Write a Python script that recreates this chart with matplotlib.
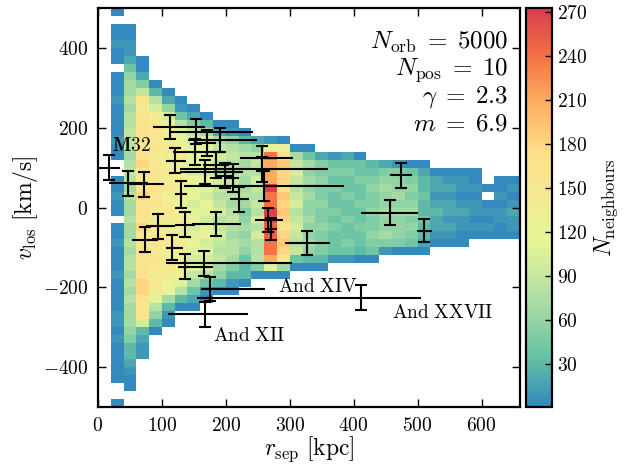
import numpy as np
import matplotlib
matplotlib.use('Agg')
import matplotlib.pyplot as plt
from matplotlib.colors import LinearSegmentedColormap
from matplotlib.ticker import FuncFormatter

plt.rcParams['mathtext.fontset'] = 'cm'
plt.rcParams['font.family'] = 'serif'

# histogram bins: 20 kpc x 20 km/s
x_edges = np.arange(0, 661, 20)
v_edges = np.arange(-500, 501, 20)

# one string per r_sep column, top row (v = 480..500) first
# '.' = empty, otherwise count = int(ch, 36) * 10
cols = [
    '.' * 50,
    '0' + '.' + '00100' + '.' + '00010000100' + '..' + '00100' + '.' + '00100010000110100000' + '..' + '0',
    '..' + '0011246' + '7787889887' + '898787' + '78778788787877' + '7653321' + '00' + '..',
    '.' * 6 + '00259' + 'gfgghgfhigghig' + 'hgigghgghiihgg' + 'a3211' + '.' * 6,
    '.' * 9 + '038a' + 'efgfgefgfhfgfegfgfgfefe' + 'b8630' + '.' * 9,
    '.' * 10 + '026ac' + 'defedfefdefedefedfed' + 'c7310' + '.' * 10,
    '.' * 11 + '0148b' + 'cdedcedecdecdedced' + 'b830' + '.' * 12,
    '.' * 12 + '0259' + 'abcbacbcabcabcbab' + '97420' + '.' * 12,
    '.' * 13 + '037' + 'abcbacbacbabcabaa' + '8410' + '.' * 13,
    '.' * 14 + '027' + '9a98a989a89a9897' + '630' + '.' * 14,
    '.' * 14 + '016' + '8988988789878875' + '310' + '.' * 14,
    '.' * 15 + '03' + '78787787' + '56767643' + '30' + '.' * 15,
    '.' * 16 + '26' + '898a989' + '8a8a8885' + '0' + '.' * 16,
    '.' * 16 + '1do' + 'lll' + 'roo' + 'rqppoo' + 'lb0' + '.' * 16,
    '.' * 16 + '0dh' + 'jiihjijihiji' + 'g70' + '.' * 16,
    '.' * 17 + '079' + 'a989a89a989' + '40' + '.' * 17,
    '.' * 17 + '04' + '767676676676' + '30' + '.' * 17,
    '.' * 18 + '2' + '556556556555' + '30' + '.' * 17,
    '.' * 18 + '1' + '454544545444' + '1' + '.' * 18,
    '.' * 18 + '2' + '454454454454' + '1' + '.' * 18,
    '.' * 18 + '0' + '445445445443' + '0' + '.' * 18,
    '.' * 19 + '3' + '45655655654' + '0' + '.' * 18,
    '.' * 19 + '2' + '5676676675' + '1' + '.' * 19,
    '.' * 19 + '1' + '5667676665' + '0' + '.' * 19,
    '.' * 19 + '0' + '4565675654' + '0' + '.' * 19,
    '.' * 19 + '0' + '2334334332' + '0' + '.' * 19,
    '.' * 20 + '0' + '22123221' + '0' + '.' * 20,
    '.' * 20 + '0' + '12122121' + '0' + '.' * 20,
    '.' * 20 + '0' + '11012110' + '0' + '.' * 20,
    '.' * 20 + '0' + '01011010' + '.' * 21,
    '.' * 22 + '0' + '.' + '01010' + '.' * 21,
    '.' * 21 + '00101100' + '.' * 21,
    '.' * 21 + '01012110' + '.' * 21,
]

# satellites: r_sep, lower/upper r error, v_los, v error
sat_r = [17, 47, 72, 113, 153, 170, 191, 120, 151, 167, 185, 198, 211, 130, 221,
         256, 256, 260, 94, 73, 136, 185, 116, 136, 166, 176, 168, 412, 327, 457,
         474, 510, 266, 271]
sat_rlo = [17, 29, 25, 27, 41, 15, 50, 13, 34, 39, 20, 12, 10, 10, 15,
           34, 128, 125, 19, 19, 15, 38, 9, 11, 60, 15, 58, 257, 34, 45,
           17, 11, 20, 9]
sat_rhi = [17, 31, 32, 54, 89, 15, 58, 18, 49, 60, 20, 12, 10, 10, 15,
           49, 104, 125, 26, 21, 15, 39, 17, 44, 137, 85, 67, 94, 36, 43,
           18, 13, 24, 9]
sat_v = [100, 61, 58, 203, 190, 162, 169, 117, 139, 89, 107, 80, 74, 33, 21,
         123, 96, 54, -47, -81, -43, -41, -101, -148, -140, -204, -268, -226, -88, -13,
         81, -58, -31, -54]
sat_verr = [31, 31, 31, 30, 31, 32, 31, 31, 32, 31, 32, 31, 36, 33, 31,
            31, 31, 37, 31, 31, 32, 31, 31, 32, 32, 31, 31, 32, 30, 32,
            31, 28, 31, 28]

name_tex = [r'$\mathbf{M32}$', r'$\mathrm{And\ XIV}$', r'$\mathrm{And\ XXVII}$', r'$\mathrm{And\ XII}$']
name_r = [22, 281, 460, 180]
name_v = [155, -199, -264, -322]

counts = np.full((50, len(cols)), np.nan)
for j, s in enumerate(cols):
    for i, ch in enumerate(s):
        if ch != '.':
            counts[i, j] = max(int(ch, 36) * 10, 3)
counts = np.ma.masked_invalid(counts[::-1])

vmin, vmax = 1, 273
anchors = [(0, '#3288bd'), (34, '#66c2a5'), (72, '#abdda4'), (112, '#e6f598'),
           (172, '#fee08b'), (208, '#fdae61'), (242, '#f46d43'), (272, '#d53e4f')]
cmap = LinearSegmentedColormap.from_list('spec', [(p / 272, c) for p, c in anchors])

fig = plt.figure(figsize=(6.26, 4.65), dpi=100)
ax = fig.add_axes([0.1565, 0.1247, 0.674, 0.858])
mesh = ax.pcolormesh(x_edges, v_edges, counts, cmap=cmap, vmin=vmin, vmax=vmax)

ax.errorbar(sat_r, sat_v, xerr=[sat_rlo, sat_rhi], fmt='none', ecolor='k',
            elinewidth=1.5, capsize=0)
ax.errorbar(sat_r, sat_v, yerr=sat_verr, fmt='none', ecolor='k',
            elinewidth=1.5, capsize=4, capthick=1.5)

for t, r, v in zip(name_tex, name_r, name_v):
    ax.text(r, v, t, fontsize=14, ha='left', va='center')

ax.text(0.972, 0.915, r'$N_{\rm orb}\;=\;5000$', transform=ax.transAxes, ha='right', va='center', fontsize=18)
ax.text(0.972, 0.845, r'$N_{\rm pos}\;=\;10$', transform=ax.transAxes, ha='right', va='center', fontsize=18)
ax.text(0.972, 0.777, r'$\gamma\;=\;2.3$', transform=ax.transAxes, ha='right', va='center', fontsize=18)
ax.text(0.972, 0.709, r'$m\;=\;6.9$', transform=ax.transAxes, ha='right', va='center', fontsize=18)

ax.set_xlim(0, 660)
ax.set_ylim(-500, 500)
ax.set_xticks(range(0, 601, 100))
ax.set_yticks(range(-400, 401, 200))
fmt = FuncFormatter(lambda val, pos: r'$%d$' % val)
ax.xaxis.set_major_formatter(fmt)
ax.yaxis.set_major_formatter(fmt)
ax.tick_params(direction='in', length=6, width=1, top=True, right=True, labelsize=14, pad=7)
for sp in ax.spines.values():
    sp.set_linewidth(1.6)
ax.set_xlabel(r'$r_{\rm sep}\ [\mathrm{kpc}]$', fontsize=17, labelpad=0)
ax.set_ylabel(r'$v_{\rm los}\ [\mathrm{km/s}]$', fontsize=17, labelpad=2)

cax = fig.add_axes([0.840, 0.1247, 0.0415, 0.858])
cb = fig.colorbar(mesh, cax=cax, ticks=range(30, 271, 30), format=fmt)
cb.outline.set_linewidth(1.6)
cb.ax.tick_params(direction='in', length=5, width=1, labelsize=14)
cb.set_label(r'$N_{\rm neighbours}$', fontsize=17, labelpad=4)

fig.savefig('out.png', dpi=100)
